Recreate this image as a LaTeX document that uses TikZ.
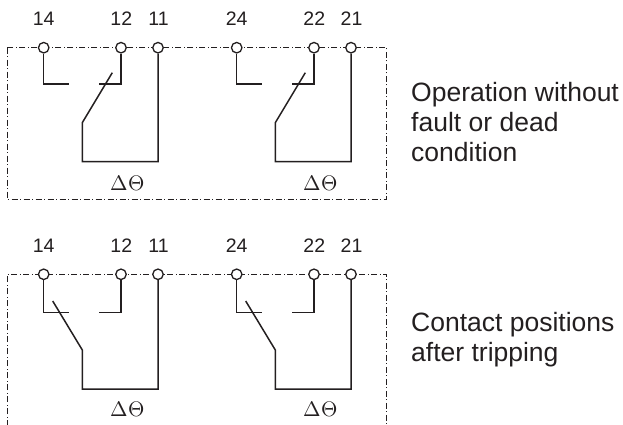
\documentclass[tikz,border=0pt]{standalone}
\usepackage{fontspec}
\setmainfont{Liberation Sans}
\usepackage{unicode-math}
\setmathfont{Latin Modern Math}
\begin{document}
\begin{tikzpicture}[x=1pt,y=-1pt]
\definecolor{ink}{RGB}{35,31,32}
\tikzset{
 wire/.style={line width=1.5pt, draw=ink},
 frame/.style={line width=0.75pt, draw=ink, dash pattern=on 6pt off 2.5pt on 1pt off 2.5pt},
 term/.style={circle, draw=ink, fill=white, line width=1.3pt, minimum size=10.5pt, inner sep=0pt},
 lbl/.style={font=\fontsize{19.5}{22}\selectfont, text=ink, anchor=base, inner sep=0pt},
 theta/.style={font=\fontsize{21}{24}\selectfont, text=ink, anchor=base, inner sep=0pt},
 caption/.style={font=\fontsize{26.5}{30}\selectfont, text=ink, align=left, anchor=north west, inner sep=0pt}
}
\useasboundingbox (0,0) rectangle (623,425);
% frames
\draw[frame] (7,47.7) rectangle (386.7,199);
\draw[frame] (7,426) -- (7,274.3) -- (386.7,274.3) -- (386.7,426);
\foreach \dx/\a/\b/\c [count=\i] in {0/14/12/11, 193/24/22/21}{
  % ---------- upper ----------
  \node[term] (ua\i) at (43.7+\dx,47.7) {};
  \node[term] (ub\i) at (121+\dx,47.7) {};
  \node[term] (uc\i) at (158+\dx,47.7) {};
  \node[lbl] (lua\i) at (43.7+\dx,26) {\a};
  \node[lbl] (lub\i) at (121.3+\dx,26) {\b};
  \node[lbl] (luc\i) at (158.5+\dx,26) {\c};
  \coordinate (uae\i) at (69+\dx,84);
  \coordinate (ube\i) at (99+\dx,84);
  \coordinate (ubl\i) at (82.3+\dx,122.7);
  \coordinate (ubt\i) at (112.3+\dx,72.7);
  \coordinate (ucr\i) at (82.3+\dx,161.7);
  \draw[wire] (ua\i.south) |- (uae\i);
  \draw[wire] (ub\i.south) |- (ube\i);
  \draw[wire] (uc\i.south) |- (ucr\i) -- (ubl\i) -- (ubt\i);
  \node[theta] (uth\i) at (127.7+\dx,190) {$\Delta\Theta$};
  % ---------- lower ----------
  \node[term] (la\i) at (43.7+\dx,274.3) {};
  \node[term] (lb\i) at (121+\dx,274.3) {};
  \node[term] (lc\i) at (158+\dx,274.3) {};
  \node[lbl] (lla\i) at (43.7+\dx,252.6) {\a};
  \node[lbl] (llb\i) at (121.3+\dx,252.6) {\b};
  \node[lbl] (llc\i) at (158.5+\dx,252.6) {\c};
  \coordinate (lae\i) at (69+\dx,312.3);
  \coordinate (lbe\i) at (99+\dx,312.3);
  \coordinate (lbl\i) at (82.3+\dx,350);
  \coordinate (lbt\i) at (52.7+\dx,301);
  \coordinate (lcr\i) at (82.3+\dx,389);
  \draw[wire] (la\i.south) |- (lae\i);
  \draw[wire] (lb\i.south) |- (lbe\i);
  \draw[wire] (lc\i.south) |- (lcr\i) -- (lbl\i) -- (lbt\i);
  \node[theta] (lth\i) at (127.7+\dx,416.7) {$\Delta\Theta$};
}
\node[caption] (cap1) at (411,82.5) {Operation without\\fault or dead\\condition};
\node[caption] (cap2) at (411,312.5) {Contact positions\\after tripping};
\end{tikzpicture}
\end{document}
